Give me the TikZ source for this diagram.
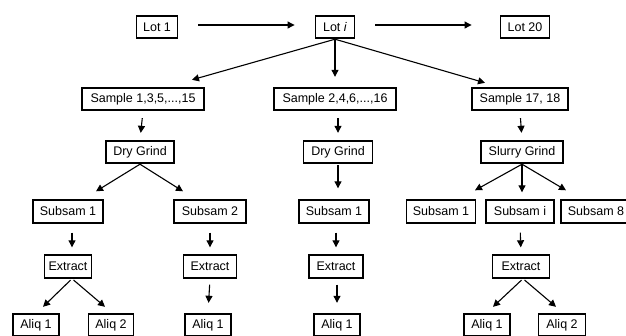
\documentclass[tikz,border=0pt]{standalone}
\usepackage{fontspec}
\setmainfont{Liberation Sans}
\usetikzlibrary{arrows.meta}
\begin{document}
\begin{tikzpicture}[x=1pt,y=-1pt,
  box/.style={draw,line width=1.9pt,minimum height=22.5pt,inner sep=0pt,font=\fontsize{12.5}{14}\selectfont},
  arr/.style={line width=1.1pt,-{Triangle[length=7pt,width=7pt]}}]
\useasboundingbox (0,0) rectangle (626,335);
% row 1
\node[box,minimum width=41pt] (lot1) at (157,27) {Lot 1};
\node[box,minimum width=39pt] (loti) at (335,27) {Lot \textit{i}};
\node[box,minimum width=49pt] (lot20) at (525,27) {Lot 20};
% row 2
\node[box,minimum width=122pt] (s1) at (143,99) {Sample 1,3,5,...,15};
\node[box,minimum width=122pt] (s2) at (335,99) {Sample 2,4,6,...,16};
\node[box,minimum width=96pt] (s3) at (520,99) {Sample 17, 18};
% row 3
\node[box,minimum width=68pt] (dg1) at (140,152) {Dry Grind};
\node[box,minimum width=69pt] (dg2) at (338,152) {Dry Grind};
\node[box,minimum width=82pt] (sg) at (522,152) {Slurry Grind};
% row 4
\node[box,minimum width=70pt] (sub1) at (68,211.5) {Subsam 1};
\node[box,minimum width=72pt] (sub2) at (210,211.5) {Subsam 2};
\node[box,minimum width=70pt] (subm) at (334,211.5) {Subsam 1};
\node[box,minimum width=69pt] (sr1) at (441,211.5) {Subsam 1};
\node[box,minimum width=68pt] (sri) at (520,211.5) {Subsam i};
\node[box,minimum width=70pt] (sr8) at (596,211.5) {Subsam 8};
% row 5
\node[box,minimum width=47pt] (ex1) at (68,266.5) {Extract};
\node[box,minimum width=53pt] (ex2) at (210,266.5) {Extract};
\node[box,minimum width=54pt] (exm) at (336,266.5) {Extract};
\node[box,minimum width=57pt] (exr) at (521,266.5) {Extract};
% row 6
\node[box,minimum width=46pt] (a11) at (36,325) {Aliq 1};
\node[box,minimum width=45pt] (a12) at (111,325) {Aliq 2};
\node[box,minimum width=46pt] (a2) at (208,325) {Aliq 1};
\node[box,minimum width=46pt] (am) at (337,325) {Aliq 1};
\node[box,minimum width=46pt] (ar1) at (487,325) {Aliq 1};
\node[box,minimum width=47pt] (ar2) at (562,325) {Aliq 2};
% connectors
\draw[arr,shorten <=20pt,shorten >=20pt] ([yshift=2pt]lot1.east) -- ([yshift=2pt]loti.west);
\draw[arr,shorten <=20pt,shorten >=28pt] ([yshift=2pt]loti.east) -- ([yshift=2pt]lot20.west);
\draw[arr] (loti.south) -- ([xshift=49pt,yshift=7pt]s1.north);
\draw[arr,shorten >=10pt] (loti.south) -- (s2.north);
\draw[arr] (loti.south) -- ([xshift=-35pt,yshift=4pt]s3.north);
\draw[arr,shorten <=7pt,shorten >=7pt] (s1.south) -- (dg1.north);
\draw[arr,shorten <=7pt,shorten >=7pt] ([xshift=3pt]s2.south) -- (dg2.north);
\draw[arr,shorten <=7pt,shorten >=7pt] (s3.south) -- (sg.north);
\draw[arr] (dg1.south) -- ([xshift=28pt,yshift=8pt]sub1.north);
\draw[arr] (dg1.south) -- ([xshift=-27pt,yshift=8pt]sub2.north);
\draw[arr,shorten <=1pt,shorten >=11pt] (dg2.south) -- ([xshift=4pt]subm.north);
\draw[arr] (sg.south) -- ([xshift=34pt,yshift=9pt]sr1.north);
\draw[arr,shorten >=7pt] (sg.south) -- ([xshift=2pt]sri.north);
\draw[arr] (sg.south) -- ([xshift=-30pt,yshift=9pt]sr8.north);
\draw[arr,shorten <=9pt,shorten >=7pt] ([xshift=4pt]sub1.south) -- ([xshift=4pt]ex1.north);
\draw[arr,shorten <=9pt,shorten >=7pt] (sub2.south) -- (ex2.north);
\draw[arr,shorten <=9pt,shorten >=7pt] ([xshift=2pt]subm.south) -- (exm.north);
\draw[arr,shorten <=9pt,shorten >=7pt] (sri.south) -- (exr.north);
\draw[arr,shorten <=2pt] ([xshift=4pt]ex1.south) -- ([xshift=7pt,yshift=6pt]a11.north);
\draw[arr,shorten <=2pt] ([xshift=4pt]ex1.south) -- ([xshift=-6pt,yshift=6pt]a12.north);
\draw[arr,shorten <=6pt,shorten >=10pt] (ex2.south) -- (a2.north);
\draw[arr,shorten <=6pt,shorten >=10pt] ([xshift=1pt]exm.south) -- (am.north);
\draw[arr,shorten <=2pt] ([xshift=2pt]exr.south) -- ([xshift=6pt,yshift=6pt]ar1.north);
\draw[arr,shorten <=2pt] ([xshift=2pt]exr.south) -- ([xshift=-6pt,yshift=6pt]ar2.north);
\end{tikzpicture}
\end{document}
